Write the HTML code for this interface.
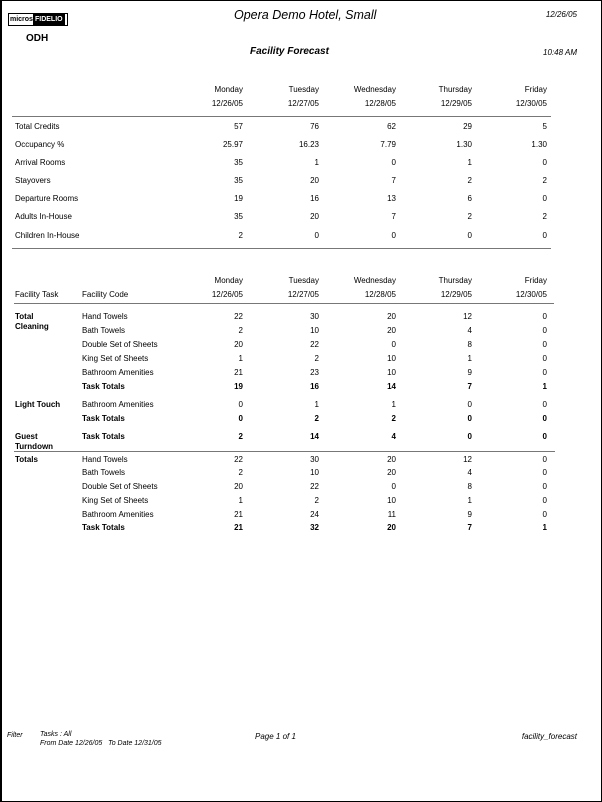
<!DOCTYPE html>
<html><head><meta charset="utf-8"><style>
*{margin:0;padding:0}
body{width:602px;height:802px;position:relative;background:#fff;font-family:"Liberation Sans",Arial,sans-serif;font-size:8px;color:#000;overflow:hidden}
.frame{position:absolute;left:0;top:0;width:599px;height:800px;border-left:2px solid #000;border-top:1px solid #000;border-right:1px solid #000;border-bottom:1px solid #000}
.a{position:absolute;white-space:nowrap}
.r{position:absolute;left:0;width:602px;height:10px;margin-top:1px}
.r span{position:absolute;white-space:nowrap;line-height:10px}
.c1{right:359px}.c2{right:283px}.c3{right:206px}.c4{right:130px}.c5{right:55px}
.l0{left:15px}.l1{left:82px}
.b{font-weight:bold}
.hr{position:absolute;height:1px;background:#777}
i{font-style:italic}
</style></head><body>
<div class="frame"></div>
<div class="a" style="left:8px;top:13px;width:58px;height:11px;border:1px solid #000;font-size:7px;line-height:11px"><span style="padding-left:1px;font-weight:bold">micros</span><span style="background:#000;color:#fff;font-weight:bold;padding:0 2px;display:inline-block;height:11px">FIDELIO</span></div>
<div class="a b" style="left:26px;top:33px;font-size:10px">ODH</div>
<div class="a" style="left:234px;top:8px;font-size:12.5px;font-style:italic">Opera Demo Hotel, Small</div>
<div class="a" style="right:25px;top:10px;font-style:italic">12/26/05</div>
<div class="a b" style="left:250px;top:46px;font-size:10px;font-style:italic">Facility Forecast</div>
<div class="a" style="right:25px;top:48px;font-style:italic">10:48 AM</div>

<div class="r" style="top:84px"><span class="c1">Monday</span><span class="c2">Tuesday</span><span class="c3">Wednesday</span><span class="c4">Thursday</span><span class="c5">Friday</span></div>
<div class="r" style="top:98px"><span class="c1">12/26/05</span><span class="c2">12/27/05</span><span class="c3">12/28/05</span><span class="c4">12/29/05</span><span class="c5">12/30/05</span></div>
<div class="hr" style="left:12px;top:116px;width:539px"></div>
<div class="r" style="top:121px"><span class="l0">Total Credits</span><span class="c1">57</span><span class="c2">76</span><span class="c3">62</span><span class="c4">29</span><span class="c5">5</span></div>
<div class="r" style="top:139px"><span class="l0">Occupancy %</span><span class="c1">25.97</span><span class="c2">16.23</span><span class="c3">7.79</span><span class="c4">1.30</span><span class="c5">1.30</span></div>
<div class="r" style="top:157px"><span class="l0">Arrival Rooms</span><span class="c1">35</span><span class="c2">1</span><span class="c3">0</span><span class="c4">1</span><span class="c5">0</span></div>
<div class="r" style="top:175px"><span class="l0">Stayovers</span><span class="c1">35</span><span class="c2">20</span><span class="c3">7</span><span class="c4">2</span><span class="c5">2</span></div>
<div class="r" style="top:193px"><span class="l0">Departure Rooms</span><span class="c1">19</span><span class="c2">16</span><span class="c3">13</span><span class="c4">6</span><span class="c5">0</span></div>
<div class="r" style="top:211px"><span class="l0">Adults In-House</span><span class="c1">35</span><span class="c2">20</span><span class="c3">7</span><span class="c4">2</span><span class="c5">2</span></div>
<div class="r" style="top:230px"><span class="l0">Children In-House</span><span class="c1">2</span><span class="c2">0</span><span class="c3">0</span><span class="c4">0</span><span class="c5">0</span></div>
<div class="hr" style="left:12px;top:248px;width:539px"></div>

<div class="r" style="top:275px"><span class="c1">Monday</span><span class="c2">Tuesday</span><span class="c3">Wednesday</span><span class="c4">Thursday</span><span class="c5">Friday</span></div>
<div class="r" style="top:289px"><span class="l0">Facility Task</span><span class="l1">Facility Code</span><span class="c1">12/26/05</span><span class="c2">12/27/05</span><span class="c3">12/28/05</span><span class="c4">12/29/05</span><span class="c5">12/30/05</span></div>
<div class="hr" style="left:14px;top:303px;width:540px"></div>

<div class="r" style="top:311px"><span class="l0 b" style="line-height:10px">Total<br>Cleaning</span><span class="l1">Hand Towels</span><span class="c1">22</span><span class="c2">30</span><span class="c3">20</span><span class="c4">12</span><span class="c5">0</span></div>
<div class="r" style="top:325px"><span class="l1">Bath Towels</span><span class="c1">2</span><span class="c2">10</span><span class="c3">20</span><span class="c4">4</span><span class="c5">0</span></div>
<div class="r" style="top:339px"><span class="l1">Double Set of Sheets</span><span class="c1">20</span><span class="c2">22</span><span class="c3">0</span><span class="c4">8</span><span class="c5">0</span></div>
<div class="r" style="top:353px"><span class="l1">King Set of Sheets</span><span class="c1">1</span><span class="c2">2</span><span class="c3">10</span><span class="c4">1</span><span class="c5">0</span></div>
<div class="r" style="top:367px"><span class="l1">Bathroom Amenities</span><span class="c1">21</span><span class="c2">23</span><span class="c3">10</span><span class="c4">9</span><span class="c5">0</span></div>
<div class="r b" style="top:381px"><span class="l1">Task Totals</span><span class="c1">19</span><span class="c2">16</span><span class="c3">14</span><span class="c4">7</span><span class="c5">1</span></div>
<div class="r" style="top:399px"><span class="l0 b">Light Touch</span><span class="l1">Bathroom Amenities</span><span class="c1">0</span><span class="c2">1</span><span class="c3">1</span><span class="c4">0</span><span class="c5">0</span></div>
<div class="r b" style="top:413px"><span class="l1">Task Totals</span><span class="c1">0</span><span class="c2">2</span><span class="c3">2</span><span class="c4">0</span><span class="c5">0</span></div>
<div class="r b" style="top:431px"><span class="l0" style="line-height:10px">Guest<br>Turndown</span><span class="l1">Task Totals</span><span class="c1">2</span><span class="c2">14</span><span class="c3">4</span><span class="c4">0</span><span class="c5">0</span></div>
<div class="hr" style="left:14px;top:451px;width:541px"></div>
<div class="r" style="top:454px"><span class="l0 b">Totals</span><span class="l1">Hand Towels</span><span class="c1">22</span><span class="c2">30</span><span class="c3">20</span><span class="c4">12</span><span class="c5">0</span></div>
<div class="r" style="top:467px"><span class="l1">Bath Towels</span><span class="c1">2</span><span class="c2">10</span><span class="c3">20</span><span class="c4">4</span><span class="c5">0</span></div>
<div class="r" style="top:481px"><span class="l1">Double Set of Sheets</span><span class="c1">20</span><span class="c2">22</span><span class="c3">0</span><span class="c4">8</span><span class="c5">0</span></div>
<div class="r" style="top:495px"><span class="l1">King Set of Sheets</span><span class="c1">1</span><span class="c2">2</span><span class="c3">10</span><span class="c4">1</span><span class="c5">0</span></div>
<div class="r" style="top:509px"><span class="l1">Bathroom Amenities</span><span class="c1">21</span><span class="c2">24</span><span class="c3">11</span><span class="c4">9</span><span class="c5">0</span></div>
<div class="r b" style="top:522px"><span class="l1">Task Totals</span><span class="c1">21</span><span class="c2">32</span><span class="c3">20</span><span class="c4">7</span><span class="c5">1</span></div>

<div class="a" style="left:7px;top:732px;font-size:7px;font-style:italic">Filter</div>
<div class="a" style="left:40px;top:730px;font-size:7px;font-style:italic;line-height:9px">Tasks : All<br>From Date 12/26/05&nbsp;&nbsp; To Date 12/31/05</div>
<div class="a" style="left:255px;top:732px;font-style:italic">Page 1 of 1</div>
<div class="a" style="right:25px;top:732px;font-style:italic">facility_forecast</div>
</body></html>
